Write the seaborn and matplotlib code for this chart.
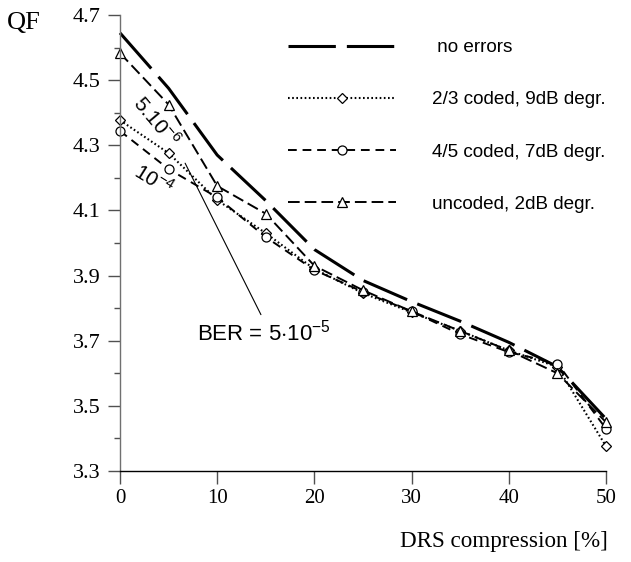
import numpy as np
import pandas as pd
import matplotlib
matplotlib.use("Agg")
import matplotlib.pyplot as plt
import seaborn as sns
from matplotlib.ticker import FixedLocator, FormatStrFormatter, MultipleLocator

# data
drs = [0, 5, 10, 15, 20, 25, 30, 35, 40, 45, 50]
qf_no_errors = [4.645, 4.475, 4.27, 4.13, 3.98, 3.885, 3.82, 3.76, 3.695, 3.62, 3.46]
qf_23_coded = [4.377, 4.276, 4.132, 4.03, 3.92, 3.846, 3.787, 3.73, 3.67, 3.62, 3.376]
qf_45_coded = [4.344, 4.227, 4.14, 4.018, 3.917, 3.85, 3.79, 3.72, 3.665, 3.63, 3.43]
qf_uncoded = [4.583, 4.425, 4.175, 4.09, 3.93, 3.855, 3.79, 3.73, 3.67, 3.6, 3.45]

labels = [" no errors", "2/3 coded, 9dB degr.", "4/5 coded, 7dB degr.", "uncoded, 2dB degr."]
yticks = [3.3, 3.5, 3.7, 3.9, 4.1, 4.3, 4.5, 4.7]
yminor = [3.4, 3.6, 3.8, 4.0, 4.2, 4.4, 4.6]

sns.set_style("ticks")
plt.rcParams["font.family"] = ["Liberation Serif", "DejaVu Serif"]
plt.rcParams["mathtext.fontset"] = "custom"
plt.rcParams["mathtext.rm"] = "Liberation Sans"
plt.rcParams["text.color"] = "black"

fig = plt.figure(figsize=(6.31, 5.62), dpi=100)
ax = fig.add_axes([120 / 631, 1 - 471 / 562, 486 / 631, 456 / 562])

common = dict(ax=ax, color="black", clip_on=False, markerfacecolor="white",
              markeredgecolor="black", markeredgewidth=0.9)

sns.lineplot(x=drs, y=qf_no_errors, ax=ax, color="black", lw=2.2,
             linestyle=(0, (15.5, 3.6)), label=labels[0], clip_on=False)
sns.lineplot(x=drs, y=qf_23_coded, lw=1.5, linestyle=(0, (0.8, 1.2)),
             marker="D", markersize=5, label=labels[1], **common)
sns.lineplot(x=drs, y=qf_45_coded, lw=1.4, linestyle=(0, (4.5, 3)),
             marker="o", markersize=6.5, label=labels[2], **common)
sns.lineplot(x=drs, y=qf_uncoded, lw=1.4, linestyle=(0, (6, 2.6)),
             marker="^", markersize=7, label=labels[3], **common)

ax.set_xlim(0, 50)
ax.set_ylim(3.3, 4.7)
ax.xaxis.set_major_locator(MultipleLocator(10))
ax.yaxis.set_major_locator(FixedLocator(yticks))
ax.yaxis.set_minor_locator(FixedLocator(yminor))
ax.yaxis.set_major_formatter(FormatStrFormatter("%.1f"))
sns.despine(ax=ax)
ax.spines["left"].set_color("#707070")
ax.spines["left"].set_linewidth(1.0)
ax.spines["bottom"].set_color("black")
ax.spines["bottom"].set_linewidth(1.0)
ax.tick_params(axis="y", which="major", length=9, width=1.0, color="#505050",
               labelcolor="black", labelsize=16, pad=5)
ax.tick_params(axis="y", which="minor", length=4, width=1.0, color="#505050")
ax.tick_params(axis="x", which="major", length=9, width=1.0, color="#505050",
               labelcolor="black", labelsize=15, pad=4)
ax.set_xlabel("")
ax.set_ylabel("")

fig.text(7 / 631, 1 - 23 / 562, "QF", fontsize=19, va="center", ha="left")
fig.text(608 / 631, 1 - 541 / 562, "DRS compression [%]", fontsize=16.7,
         va="center", ha="right")

leg = ax.legend(loc="upper left", bbox_to_anchor=(288 / 631, 1 - 39 / 562),
                bbox_transform=fig.transFigure, frameon=False, borderpad=0,
                borderaxespad=0, handlelength=5.7, handletextpad=1.9,
                labelspacing=1.85, numpoints=1,
                prop={"family": "Liberation Sans", "size": 13.6})
for t in leg.get_texts():
    t.set_color("black")

sans = ["Liberation Sans", "DejaVu Sans"]
ax.text(3.72, 4.374, r"5.10$^{\mathregular{-6}}$", fontsize=15, family=sans,
        rotation=-50, ha="center", va="center", rotation_mode="anchor",
        color="black")
ax.text(3.5, 4.193, r"10$^{\mathregular{-4}}$", fontsize=15, family=sans,
        rotation=-32, ha="center", va="center", rotation_mode="anchor",
        color="black")
ax.text(7.96, 3.726, r"BER = 5$\cdot$10$^{\mathregular{-5}}$", fontsize=16,
        family=sans, ha="left", va="center", color="black")
ax.plot([6.7, 14.5], [4.245, 3.78], color="black", lw=0.8)

fig.savefig("out.png", dpi=100)
